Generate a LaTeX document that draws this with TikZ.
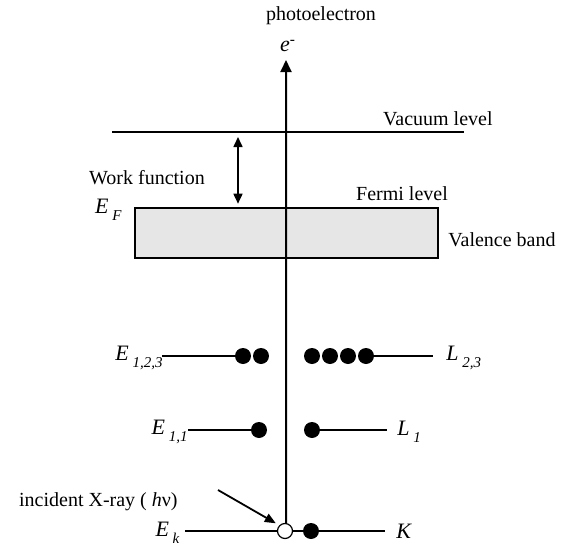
\documentclass[tikz,border=0pt]{standalone}
\usepackage{fontspec}
\setmainfont{Liberation Serif}
\usetikzlibrary{arrows.meta,calc,positioning}
\definecolor{BandGrey}{HTML}{E6E6E6}
\newcommand{\lvl}[2]{\textit{#1}\,\raisebox{-0.7ex}{\fontsize{7.5}{8}\selectfont\textit{#2}}}

\begin{document}
\begin{tikzpicture}[
  x=0.5pt,
  y=-0.5pt,
  >={Triangle[length=6pt,width=5.5pt]},
  txt/.style={font=\fontsize{10}{12}\selectfont,inner sep=0pt},
  sym/.style={font=\fontsize{11}{12}\selectfont,inner sep=0pt},
  level/.style={line width=0.7pt},
  electron/.style={circle,fill=black,inner sep=0pt,minimum size=8pt},
  hole/.style={circle,draw=black,fill=white,line width=0.6pt,inner sep=0pt,minimum size=7.5pt},
  band/.style={draw,fill=BandGrey,line width=1.3pt,inner sep=0pt,
    minimum width=151.5pt,minimum height=25pt}
]
  \useasboundingbox (0,0) rectangle (564,547);

  \node[band] (vb) at (286.5,233) {};
  \coordinate (vacL) at (112,132);
  \coordinate (vacR) at (464,132);
  \draw[line width=0.9pt] (vacL) -- (vacR);
  \node[txt,anchor=base east] (vac) at (493,125) {Vacuum level};
  \node[txt] (fermi) at (402,194) {Fermi level};
  \node[txt,anchor=west] (valence) at (448,240) {Valence band};
  \node[sym,anchor=east] (ef) at (122,210) {\lvl{E}{F}};
  \coordinate (wf) at (238,132);
  \draw[<->,line width=0.8pt,>={Triangle[length=5pt,width=4.5pt]},
    shorten <=2.5pt,shorten >=1.5pt] (wf) -- (wf |- vb.north);
  \node[txt] (wftext) at (147,178) {Work function};

  \node[hole] (h) at (285,531) {};
  \node[electron] (k1) at (311,531) {};
  \coordinate (kL) at (185,531);
  \coordinate (kR) at (385,531);
  \draw[level] (kL) -- (h);
  \draw[level] (h) -- (k1) -- (kR);
  \node[sym,anchor=east] (ek) at (180,533) {\lvl{E}{k}};
  \node[sym,anchor=west] (kk) at (396,531) {\textit{K}};

  \node[electron] (a1) at (259,430) {};
  \node[electron] (b1) at (312,430) {};
  \coordinate (l1L) at (188,430);
  \coordinate (l1R) at (387,430);
  \draw[level] (l1L) -- (a1);
  \draw[level] (b1) -- (l1R);
  \node[sym,anchor=east] (e11) at (188,432) {\lvl{E}{1,1}};
  \node[sym,anchor=west] (l1) at (397,432) {\lvl{L}{1}};

  \foreach \x/\n in {243/1,261/2} {
    \node[electron] (c\n) at (\x,356) {};
  }
  \foreach \x/\n in {312/1,330/2,348/3,366/4} {
    \node[electron] (d\n) at (\x,356) {};
  }
  \coordinate (l23L) at (162,356);
  \coordinate (l23R) at (433,356);
  \draw[level] (l23L) -- (c1);
  \draw[level] (d4) -- (l23R);
  \node[sym,anchor=east] (e123) at (163,358) {\lvl{E}{1,2,3}};
  \node[sym,anchor=west] (l23) at (446,358) {\lvl{L}{2,3}};

  \coordinate (top) at (286,60);
  \draw[->,line width=1pt] (h) -- (top |- h.north) -- (top);
  \node[sym] (elec) at (288,46) {\textit{e}\textsuperscript{-}};
  \node[txt] (photo) at (321,16) {photoelectron};

  \coordinate (xray) at (218,490);
  \node[txt,anchor=east] (xtext) at (178,502) {incident X-ray ( \textit{h}ν)};
  \draw[->,line width=0.9pt,>={Triangle[length=5.5pt,width=4.5pt]},
    shorten >=2pt] (xray) -- (h.north west);
\end{tikzpicture}
\end{document}
